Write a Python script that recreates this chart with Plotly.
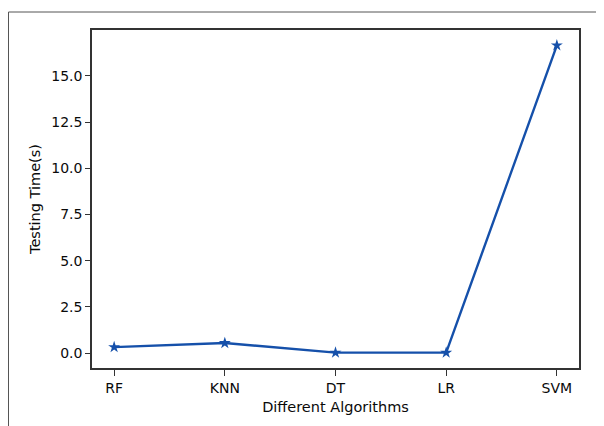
import plotly.graph_objects as go

algorithms = ["RF", "KNN", "DT", "LR", "SVM"]
testing_time = [0.32, 0.54, 0.02, 0.02, 16.65]
y_tick_vals = [0.0, 2.5, 5.0, 7.5, 10.0, 12.5, 15.0]

FONT = "DejaVu Sans, sans-serif"
LINE_COLOR = "#1550aa"
FRAME = "#333333"

span = max(testing_time) - min(testing_time)
y_lo = min(testing_time) - 0.05 * span
y_hi = max(testing_time) + 0.05 * span
n = len(algorithms)
x_lo = -0.05 * (n - 1)
x_hi = (n - 1) + 0.05 * (n - 1)

fig = go.Figure()
fig.add_trace(go.Scatter(
    x=list(range(n)), y=testing_time, mode="lines+markers",
    line=dict(color=LINE_COLOR, width=2.4),
    marker=dict(symbol="star", size=9, color=LINE_COLOR),
    showlegend=False,
))

# page body has an 8px margin, so the figure is 8px smaller and offset
OFF = 8
W, H = 604 - OFF, 426 - OFF
L, R, T, B = 92 - OFF, 25, 30 - OFF, 58
pw, ph = W - L - R, H - T - B

def px_x(p):
    return (p - OFF - L) / pw

def px_y(p):
    return (H - B - (p - OFF)) / ph

fig.update_layout(
    width=W, height=H,
    margin=dict(l=L, r=R, t=T, b=B),
    paper_bgcolor="white", plot_bgcolor="white",
    font=dict(family=FONT, size=14, color="#0a0a0a"),
    xaxis=dict(
        range=[x_lo, x_hi], tickmode="array",
        tickvals=list(range(n)), ticktext=algorithms,
        showgrid=False, zeroline=False,
        showline=True, linecolor=FRAME, linewidth=1.6, mirror=True,
        ticks="outside", ticklen=6, tickcolor=FRAME, tickwidth=1.3,
        tickfont=dict(size=14),
        title=dict(text="Different Algorithms", font=dict(size=14.5), standoff=7),
    ),
    yaxis=dict(
        range=[y_lo, y_hi], tickmode="array",
        tickvals=y_tick_vals, tickformat=".1f",
        showgrid=False, zeroline=False,
        showline=True, linecolor=FRAME, linewidth=1.6, mirror=True,
        ticks="outside", ticklen=5, tickcolor=FRAME, tickwidth=1.3,
        tickfont=dict(size=14),
        title=dict(text="Testing Time(s)", font=dict(size=14.5), standoff=7),
    ),
    shapes=[
        dict(type="line", xref="paper", yref="paper",
             x0=px_x(8.5), x1=px_x(610), y0=px_y(12), y1=px_y(12),
             line=dict(color="#555555", width=1)),
        dict(type="line", xref="paper", yref="paper",
             x0=px_x(8.5), x1=px_x(8.5), y0=px_y(12), y1=px_y(430),
             line=dict(color="#555555", width=1)),
    ],
)

fig.write_html("out.html")
